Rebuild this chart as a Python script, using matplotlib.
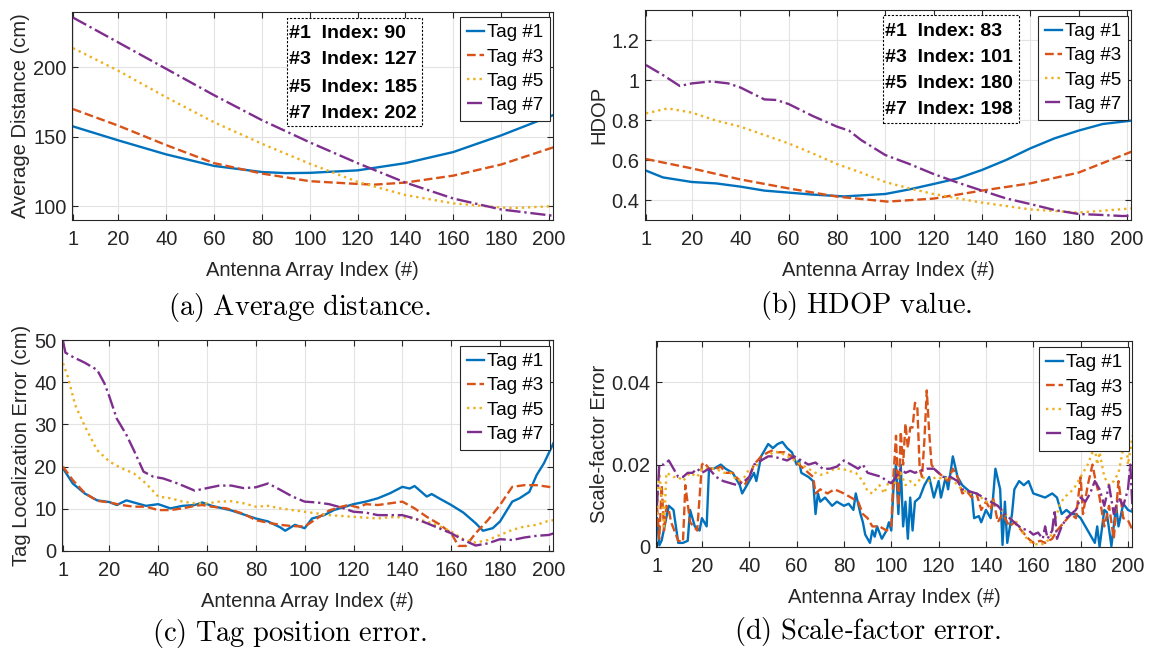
import numpy as np
import matplotlib
matplotlib.use("Agg")
import matplotlib.pyplot as plt
from matplotlib.patches import Rectangle

plt.rcParams['font.family'] = ['Liberation Sans', 'DejaVu Sans']
plt.rcParams['mathtext.fontset'] = 'cm'

W, H = 1152, 655
colors = ['#0072BD', '#D95319', '#EDB120', '#7E2F8E']
styles = ['-', '--', ':', '-.']
tags = ['Tag #1', 'Tag #3', 'Tag #5', 'Tag #7']

# ---- (a) average distance ----
a_idx = [1, 20, 40, 60, 80, 90, 100, 120, 140, 160, 180, 202]
a_tag1 = [157.5, 147.4, 137.3, 129.0, 124.6, 123.8, 124.0, 125.8, 131.0, 139.0, 151.0, 165.8]
a_idx3 = [1, 20, 40, 60, 80, 100, 120, 127, 140, 160, 180, 202]
a_tag3 = [170.0, 158.0, 144.0, 131.0, 123.5, 118.0, 116.0, 115.5, 117.0, 122.0, 130.0, 142.5]
a_idx5 = [1, 20, 40, 60, 80, 100, 120, 140, 160, 180, 185, 202]
a_tag5 = [214.0, 197.6, 178.5, 160.5, 145.0, 130.6, 117.5, 108.0, 102.0, 99.0, 98.6, 100.0]
a_idx7 = [1, 20, 40, 60, 80, 100, 120, 140, 160, 180, 202]
a_tag7 = [236.0, 218.0, 199.0, 180.0, 162.0, 146.0, 131.0, 117.0, 105.5, 97.6, 93.0]

# ---- (b) HDOP ----
b_idx1 = [1, 8, 20, 30, 40, 50, 60, 70, 83, 100, 110, 120, 130, 140, 150, 160, 170, 180, 190, 202]
b_tag1 = [0.547, 0.513, 0.49, 0.483, 0.467, 0.447, 0.437, 0.427, 0.418, 0.43, 0.453, 0.48,
          0.508, 0.55, 0.6, 0.658, 0.708, 0.747, 0.78, 0.797]
b_idx3 = [1, 20, 40, 60, 80, 101, 120, 140, 160, 180, 202]
b_tag3 = [0.605, 0.558, 0.503, 0.458, 0.417, 0.392, 0.407, 0.447, 0.483, 0.537, 0.642]
b_idx5 = [1, 10, 20, 30, 40, 50, 60, 70, 80, 90, 100, 110, 120, 130, 140, 160, 180, 202]
b_tag5 = [0.833, 0.858, 0.837, 0.797, 0.767, 0.725, 0.683, 0.633, 0.58, 0.537, 0.49, 0.458,
          0.43, 0.408, 0.387, 0.353, 0.337, 0.358]
b_idx7 = [1, 8, 15, 20, 28, 35, 40, 50, 55, 60, 70, 80, 85, 90, 100, 110, 120, 130, 140,
          150, 160, 170, 180, 190, 198, 202]
b_tag7 = [1.075, 1.025, 0.97, 0.983, 0.993, 0.983, 0.963, 0.903, 0.9, 0.88, 0.82, 0.767,
          0.747, 0.7, 0.625, 0.58, 0.53, 0.487, 0.447, 0.408, 0.38, 0.35, 0.33, 0.325, 0.32, 0.321]

# ---- (c) tag localization error ----
c_idx1 = [1, 5, 10, 15, 20, 23, 27, 30, 35, 40, 45, 50, 55, 58, 62, 70, 80, 85, 90, 92, 96,
          100, 103, 108, 112, 120, 125, 130, 135, 140, 143, 145, 150, 152, 155, 160, 165, 170,
          173, 177, 180, 185, 188, 192, 195, 198, 202]
c_tag1 = [19.6, 16.0, 13.6, 12.0, 11.6, 10.9, 12.0, 11.5, 10.7, 11.1, 10.1, 10.7, 10.9, 11.5,
          10.7, 9.6, 7.7, 7.0, 5.6, 4.8, 6.2, 5.4, 7.7, 8.5, 9.7, 11.1, 11.7, 12.5, 13.7, 15.2,
          14.8, 15.4, 12.9, 13.5, 12.5, 10.9, 9.1, 6.6, 4.8, 5.4, 7.0, 11.7, 12.5, 14.0, 18.0,
          20.8, 25.7]
c_idx3 = [1, 5, 10, 15, 20, 25, 30, 35, 40, 45, 50, 55, 58, 62, 68, 75, 80, 85, 90, 95, 100,
          105, 110, 115, 118, 122, 125, 130, 135, 140, 145, 150, 155, 160, 163, 166, 170, 175,
          180, 185, 190, 195, 200, 202]
c_tag3 = [20.0, 16.8, 13.7, 11.9, 11.5, 10.9, 10.5, 10.5, 9.7, 9.7, 10.1, 10.7, 10.9, 10.5,
          10.1, 8.8, 7.3, 6.7, 6.2, 5.9, 5.8, 7.7, 9.6, 10.5, 10.9, 10.3, 11.1, 10.9, 11.3, 11.7,
          10.1, 8.1, 6.4, 4.2, 1.2, 1.2, 4.2, 7.3, 10.9, 15.2, 15.6, 15.6, 15.2, 14.8]
c_idx5 = [1, 3, 6, 10, 15, 20, 25, 30, 35, 40, 45, 50, 55, 60, 65, 70, 75, 80, 85, 90, 100,
          110, 120, 130, 135, 140, 145, 150, 155, 160, 165, 170, 175, 180, 185, 190, 195, 200, 202]
c_tag5 = [44.5, 41.3, 34.6, 29.5, 23.9, 21.2, 19.6, 18.4, 16.0, 12.9, 12.5, 11.7, 11.3, 11.3,
          11.7, 11.8, 11.3, 10.5, 10.7, 10.1, 9.3, 8.5, 8.1, 7.7, 8.0, 8.0, 7.7, 7.0, 5.9, 4.6,
          2.8, 2.0, 2.6, 3.8, 5.0, 5.8, 6.2, 7.2, 7.3]
c_idx7 = [1, 2, 5, 10, 15, 18, 20, 23, 27, 30, 34, 38, 42, 48, 55, 60, 65, 70, 75, 80, 85, 90,
          95, 100, 105, 110, 115, 120, 125, 130, 135, 140, 145, 150, 155, 160, 165, 170, 175,
          180, 185, 190, 195, 200, 202]
c_tag7 = [49.8, 47.0, 46.0, 44.6, 42.9, 39.7, 36.6, 31.4, 27.5, 23.9, 18.8, 17.6, 17.2, 16.0,
          14.3, 14.9, 15.5, 15.5, 14.9, 15.1, 16.0, 14.5, 12.9, 11.7, 11.5, 11.1, 10.3, 9.3, 9.1,
          8.5, 8.5, 8.5, 7.7, 6.6, 5.4, 4.2, 2.6, 1.3, 1.8, 2.8, 2.6, 3.2, 3.6, 3.8, 4.2]

# ---- (d) scale-factor error ----
d_idx1 = [1, 2, 3, 6, 8, 10, 12, 14, 15, 17, 19, 20, 22, 23, 25, 28, 30, 33, 36, 37, 40, 42,
          43, 45, 48, 50, 52, 54, 56, 58, 60, 61, 62, 65, 67, 68, 69, 70, 72, 75, 77, 80, 82,
          84, 85, 87, 88, 89, 91, 92, 93, 94, 96, 98, 99, 100, 101, 102, 103, 104, 105, 106,
          107, 108, 109, 110, 112, 114, 116, 118, 120, 121, 123, 124, 126, 128, 130, 132, 134,
          135, 137, 138, 140, 142, 143, 144, 146, 147, 148, 149, 151, 152, 154, 156, 158, 160,
          165, 168, 170, 172, 174, 176, 178, 180, 182, 184, 186, 187, 188, 190, 191, 193, 195,
          196, 198, 200, 202]
d_tag1 = [0.007, 0.0004, 0.0016, 0.010, 0.009, 0.001, 0.001, 0.0015, 0.009, 0.005, 0.004,
          0.007, 0.005, 0.019, 0.019, 0.020, 0.019, 0.018, 0.015, 0.013, 0.016, 0.018, 0.016,
          0.022, 0.025, 0.024, 0.025, 0.0255, 0.024, 0.023, 0.020, 0.021, 0.018, 0.017, 0.016,
          0.008, 0.013, 0.011, 0.012, 0.010, 0.011, 0.010, 0.0105, 0.009, 0.013, 0.008, 0.006,
          0.003, 0.001, 0.004, 0.0025, 0.005, 0.002, 0.004, 0.006, 0.004, 0.015, 0.020, 0.008,
          0.020, 0.005, 0.011, 0.002, 0.012, 0.004, 0.011, 0.012, 0.015, 0.017, 0.012, 0.016,
          0.012, 0.017, 0.014, 0.022, 0.017, 0.015, 0.014, 0.013, 0.007, 0.0075, 0.006, 0.009,
          0.007, 0.012, 0.019, 0.014, 0.0005, 0.011, 0.001, 0.008, 0.014, 0.016, 0.015, 0.016,
          0.013, 0.012, 0.013, 0.012, 0.008, 0.009, 0.008, 0.008, 0.007, 0.005, 0.003, 0.001,
          0.005, 0.0, 0.009, 0.0085, 0.0002, 0.010, 0.005, 0.0105, 0.009, 0.0085]
d_idx3 = [1, 2, 3, 4, 5, 6, 7, 10, 12, 13, 15, 18, 19, 20, 21, 23, 26, 28, 30, 33, 36, 38, 40,
          42, 45, 48, 50, 52, 55, 58, 60, 62, 65, 67, 68, 70, 73, 76, 80, 83, 86, 88, 90, 92,
          95, 98, 100, 101, 102, 103, 104, 105, 106, 107, 108, 109, 110, 111, 112, 113, 114,
          115, 116, 117, 118, 120, 122, 124, 126, 128, 130, 132, 134, 136, 138, 140, 142, 143,
          145, 147, 150, 152, 155, 158, 160, 163, 165, 168, 170, 173, 176, 178, 180, 181, 183,
          185, 186, 188, 190, 192, 194, 196, 198, 200, 202]
d_tag3 = [0.010, 0.002, 0.015, 0.004, 0.010, 0.009, 0.006, 0.0015, 0.0013, 0.015, 0.006,
          0.004, 0.012, 0.020, 0.0205, 0.019, 0.019, 0.0195, 0.018, 0.018, 0.016, 0.015, 0.017,
          0.020, 0.022, 0.023, 0.0235, 0.023, 0.023, 0.022, 0.0205, 0.0195, 0.018, 0.017, 0.013,
          0.014, 0.013, 0.014, 0.013, 0.012, 0.011, 0.008, 0.007, 0.005, 0.005, 0.004, 0.005,
          0.018, 0.027, 0.010, 0.028, 0.020, 0.030, 0.024, 0.029, 0.029, 0.035, 0.034, 0.019,
          0.017, 0.026, 0.038, 0.028, 0.020, 0.019, 0.018, 0.017, 0.016, 0.019, 0.017, 0.013,
          0.0135, 0.012, 0.013, 0.009, 0.011, 0.009, 0.012, 0.006, 0.008, 0.005, 0.006, 0.004,
          0.002, 0.001, 0.0015, 0.001, 0.002, 0.004, 0.006, 0.008, 0.007, 0.017, 0.008, 0.015,
          0.020, 0.017, 0.012, 0.005, 0.010, 0.002, 0.016, 0.007, 0.0065, 0.004]
d_idx5 = [1, 2, 3, 4, 5, 8, 10, 12, 15, 18, 20, 23, 26, 29, 32, 35, 38, 40, 42, 45, 48, 50,
          53, 56, 59, 62, 65, 68, 70, 73, 76, 79, 82, 85, 88, 90, 92, 95, 97, 99, 101, 104, 106,
          108, 110, 113, 116, 119, 122, 125, 128, 130, 133, 136, 140, 143, 145, 148, 150, 153,
          156, 158, 160, 163, 165, 167, 169, 171, 173, 175, 177, 179, 181, 183, 185, 186, 187,
          188, 190, 192, 194, 196, 198, 199, 200, 202]
d_tag5 = [0.008, 0.018, 0.012, 0.005, 0.018, 0.017, 0.017, 0.016, 0.018, 0.017, 0.019, 0.019,
          0.019, 0.018, 0.018, 0.016, 0.017, 0.019, 0.019, 0.021, 0.022, 0.023, 0.023, 0.022,
          0.021, 0.020, 0.019, 0.018, 0.0175, 0.018, 0.019, 0.019, 0.0185, 0.018, 0.016, 0.0135,
          0.013, 0.015, 0.013, 0.016, 0.015, 0.018, 0.015, 0.016, 0.015, 0.017, 0.016, 0.017,
          0.0165, 0.017, 0.015, 0.014, 0.013, 0.013, 0.011, 0.011, 0.010, 0.008, 0.007, 0.006,
          0.003, 0.0015, 0.0008, 0.0005, 0.001, 0.002, 0.006, 0.010, 0.012, 0.013, 0.014, 0.016,
          0.018, 0.020, 0.023, 0.024, 0.020, 0.023, 0.017, 0.015, 0.016, 0.018, 0.024, 0.027,
          0.020, 0.027]
d_idx7 = [1, 2, 4, 6, 8, 10, 12, 14, 16, 18, 20, 23, 26, 29, 32, 35, 38, 40, 42, 45, 48, 50,
          53, 56, 59, 62, 65, 68, 71, 74, 77, 80, 83, 86, 88, 90, 93, 96, 98, 100, 102, 104,
          106, 108, 110, 112, 115, 118, 120, 122, 125, 128, 130, 133, 136, 139, 142, 145, 148,
          150, 152, 155, 158, 160, 162, 164, 165, 166, 168, 169, 170, 172, 174, 176, 178, 180,
          182, 184, 186, 188, 190, 192, 194, 196, 198, 200, 201, 202]
d_tag7 = [0.010, 0.020, 0.020, 0.021, 0.019, 0.017, 0.017, 0.018, 0.018, 0.019, 0.018, 0.019,
          0.017, 0.016, 0.0155, 0.015, 0.016, 0.017, 0.020, 0.021, 0.022, 0.022, 0.0215, 0.021,
          0.022, 0.021, 0.020, 0.0205, 0.019, 0.019, 0.0195, 0.021, 0.020, 0.019, 0.020, 0.018,
          0.0175, 0.017, 0.016, 0.0155, 0.017, 0.019, 0.018, 0.0185, 0.018, 0.0185, 0.019, 0.019,
          0.018, 0.017, 0.017, 0.016, 0.014, 0.0135, 0.013, 0.012, 0.011, 0.010, 0.008, 0.007,
          0.006, 0.0045, 0.004, 0.003, 0.0035, 0.002, 0.005, 0.002, 0.004, 0.009, 0.002, 0.005,
          0.007, 0.008, 0.009, 0.012, 0.011, 0.013, 0.016, 0.014, 0.010, 0.015, 0.008, 0.012,
          0.010, 0.014, 0.020, 0.008]

xticks = [1] + list(range(20, 201, 20))
notes_a = ['#1  Index: 90', '#3  Index: 127', '#5  Index: 185', '#7  Index: 202']
notes_b = ['#1  Index: 83', '#3  Index: 101', '#5  Index: 180', '#7  Index: 198']

FS = 14.5
fig = plt.figure(figsize=(W / 100, H / 100), dpi=100)


def px_axes(x0, y0, x1, y1):
    return fig.add_axes([x0 / W, 1 - y1 / H, (x1 - x0) / W, (y1 - y0) / H])


def style(ax, ylim, yticks, yticklabels, ylabel):
    ax.set_xlim(0.6, 201.7)
    ax.set_ylim(*ylim)
    ax.set_xticks(xticks)
    ax.set_yticks(yticks)
    ax.set_yticklabels(yticklabels)
    ax.grid(True, color='#e3e3e3', lw=0.8)
    ax.set_axisbelow(True)
    ax.tick_params(direction='in', top=True, right=True, length=4, width=0.8,
                   labelsize=FS, colors='#262626', pad=4)
    ax.tick_params(axis='x', pad=7.5)
    for s in ax.spines.values():
        s.set_color('#262626')
        s.set_linewidth(0.8)
    ax.set_xlabel('Antenna Array Index (#)', fontsize=FS, color='#262626', labelpad=8)
    ax.set_ylabel(ylabel, fontsize=FS, color='#262626', labelpad=2)


def draw(ax, series):
    for (x, y), c, ls, lab in zip(series, colors, styles, tags):
        ax.plot(x, y, color=c, ls=ls, lw=1.7, label=lab)


def legend(ax, right, top):
    ax.legend(loc='upper right', bbox_to_anchor=(right / W, 1 - top / H),
              bbox_transform=fig.transFigure, fontsize=13.5, frameon=True,
              fancybox=False, framealpha=1, edgecolor='#262626', borderpad=0.38,
              labelspacing=0.38, handlelength=0.9, handletextpad=0.15, borderaxespad=0)
    ax.get_legend().get_frame().set_linewidth(0.8)


def note_box(x0, y0, x1, y1, tx, rows, lines):
    fig.patches.append(Rectangle((x0 / W, 1 - y1 / H), (x1 - x0) / W, (y1 - y0) / H,
                                 transform=fig.transFigure, fill=True, fc='white',
                                 ec='black', ls=(0, (2, 1.5)), lw=0.8, zorder=5))
    for ry, s in zip(rows, lines):
        fig.text(tx / W, 1 - ry / H, s, fontsize=14, fontweight='bold', va='center',
                 ha='left', zorder=6)


# (a)
ax = px_axes(72, 12, 553, 220)
draw(ax, [(a_idx, a_tag1), (a_idx3, a_tag3), (a_idx5, a_tag5), (a_idx7, a_tag7)])
style(ax, (90, 240), [100, 150, 200], ['100', '150', '200'], 'Average Distance (cm)')
legend(ax, 550, 17)
note_box(287, 18, 422, 126, 289, [33, 60, 87, 113], notes_a)

# (b)
ax = px_axes(645, 10, 1131, 220)
draw(ax, [(b_idx1, b_tag1), (b_idx3, b_tag3), (b_idx5, b_tag5), (b_idx7, b_tag7)])
style(ax, (0.3, 1.35), [0.4, 0.6, 0.8, 1.0, 1.2], ['0.4', '0.6', '0.8', '1', '1.2'], 'HDOP')
legend(ax, 1128, 16)
note_box(883, 15, 1019, 123, 885, [31, 57, 84, 110], notes_b)

# (c)
ax = px_axes(62, 340, 553, 551)
draw(ax, [(c_idx1, c_tag1), (c_idx3, c_tag3), (c_idx5, c_tag5), (c_idx7, c_tag7)])
style(ax, (0, 50), [0, 10, 20, 30, 40, 50], ['0', '10', '20', '30', '40', '50'],
      'Tag Localization Error (cm)')
legend(ax, 550, 346)

# (d)
ax = px_axes(656, 341, 1132, 547)
draw(ax, [(d_idx1, d_tag1), (d_idx3, d_tag3), (d_idx5, d_tag5), (d_idx7, d_tag7)])
style(ax, (0, 0.05), [0, 0.02, 0.04], ['0', '0.02', '0.04'], 'Scale-factor Error')
legend(ax, 1129, 347)

# captions
cap = dict(fontsize=20.5, ha='center', va='center', color='black')
fig.text(300 / W, 1 - 308 / H, r'$\mathrm{(a)\ Average\ distance.}$', **cap)
fig.text(866 / W, 1 - 305 / H, r'$\mathrm{(b)\ HDOP\ value.}$', **cap)
fig.text(289 / W, 1 - 634 / H, r'$\mathrm{(c)\ Tag\ position\ error.}$', **cap)
fig.text(868 / W, 1 - 632 / H, r'$\mathrm{(d)\ Scale}$-$\mathrm{factor\ error.}$', **cap)

fig.savefig('out.png', dpi=100)
